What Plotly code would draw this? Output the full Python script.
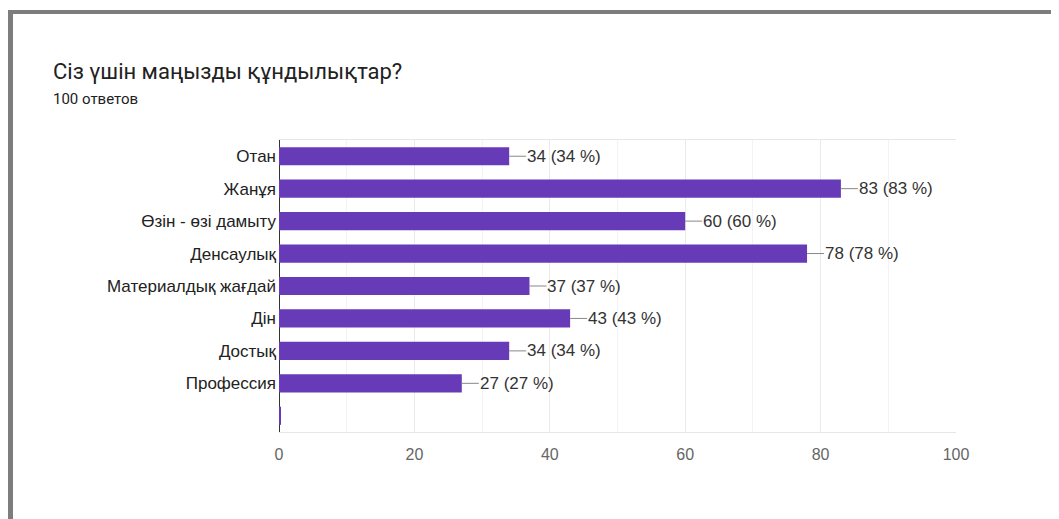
import plotly.graph_objects as go

title = "Сіз үшін маңызды құндылықтар?"
subtitle = "100 ответов"
categories = ["Отан", "Жанұя", "Өзін - өзі дамыту", "Денсаулық",
              "Материалдық жағдай", "Дін", "Достық", "Профессия", " "]
values = [34, 83, 60, 78, 37, 43, 34, 27, 0.3]
percents = [34, 83, 60, 78, 37, 43, 34, 27, 0]
x_ticks = [0, 20, 40, 60, 80, 100]

OFF = 8  # page body margin
W, H = 1059, 519
PL, PR, PT, PB = 279, 956, 140, 432  # plot area in screen pixels
ML = PL - OFF
MT = PT - OFF
MR = W - (PR - OFF)
MB = H - (PB - OFF)
PW = W - ML - MR
PH = H - MT - MB

def px_x(p):
    return (p - OFF - ML) / PW

def px_y(p):
    return 1 - (p - OFF - MT) / PH

fig = go.Figure()
fig.add_trace(go.Bar(
    x=values, y=categories, orientation="h",
    marker=dict(color="#673ab7", line=dict(width=0)),
    width=0.56, hoverinfo="skip",
))

annotations = []
for c, v, p in zip(categories[:-1], values[:-1], percents[:-1]):
    annotations.append(dict(
        x=v, y=c, xref="x", yref="y",
        text=f"{v} ({p} %)", showarrow=True, arrowhead=0,
        arrowwidth=1, arrowcolor="#888888", ax=17, ay=0,
        xanchor="left", yanchor="middle", standoff=0, startstandoff=0,
        borderpad=0,
        font=dict(family="Liberation Sans, Arial", size=17, color="#333333"),
    ))

annotations.append(dict(
    x=px_x(51), y=px_y(71), xref="paper", yref="paper", showarrow=False,
    text=title, xanchor="left", yanchor="middle",
    font=dict(family="Roboto", size=22, color="#212121"),
))
annotations.append(dict(
    x=px_x(51), y=px_y(99), xref="paper", yref="paper", showarrow=False,
    text=subtitle, xanchor="left", yanchor="middle",
    font=dict(family="Roboto", size=15, color="#212121"),
))

shapes = [
    dict(type="line", xref="paper", yref="paper",
         x0=px_x(8), x1=px_x(1070), y0=px_y(12), y1=px_y(12),
         line=dict(color="#7d7d7d", width=4)),
    dict(type="line", xref="paper", yref="paper",
         x0=px_x(10.5), x1=px_x(10.5), y0=px_y(10), y1=px_y(540),
         line=dict(color="#7d7d7d", width=5)),
]

fig.update_layout(
    width=W, height=H,
    margin=dict(l=ML, r=MR, t=MT, b=MB, pad=0),
    paper_bgcolor="white", plot_bgcolor="white",
    showlegend=False,
    annotations=annotations, shapes=shapes,
    xaxis=dict(
        range=[0, 100], tickvals=x_ticks, ticktext=[str(t) for t in x_ticks],
        showgrid=True, gridcolor="#ebebeb", gridwidth=1,
        minor=dict(dtick=10, showgrid=True, gridcolor="#f3f3f3", gridwidth=1),
        zeroline=True, zerolinecolor="#333333", zerolinewidth=1,
        showline=True, linecolor="#e6e6e6", linewidth=1, mirror=True,
        ticks="", ticklabelstandoff=8,
        tickfont=dict(family="Liberation Sans, Arial", size=16, color="#666666"),
        fixedrange=True,
    ),
    yaxis=dict(
        categoryorder="array", categoryarray=categories,
        autorange="reversed", showgrid=False, zeroline=False,
        showline=False, ticks="", ticklabelstandoff=2,
        tickfont=dict(family="Liberation Sans, Arial", size=17, color="#222222"),
        fixedrange=True,
    ),
    bargap=0.44,
)

fig.write_html("out.html")
